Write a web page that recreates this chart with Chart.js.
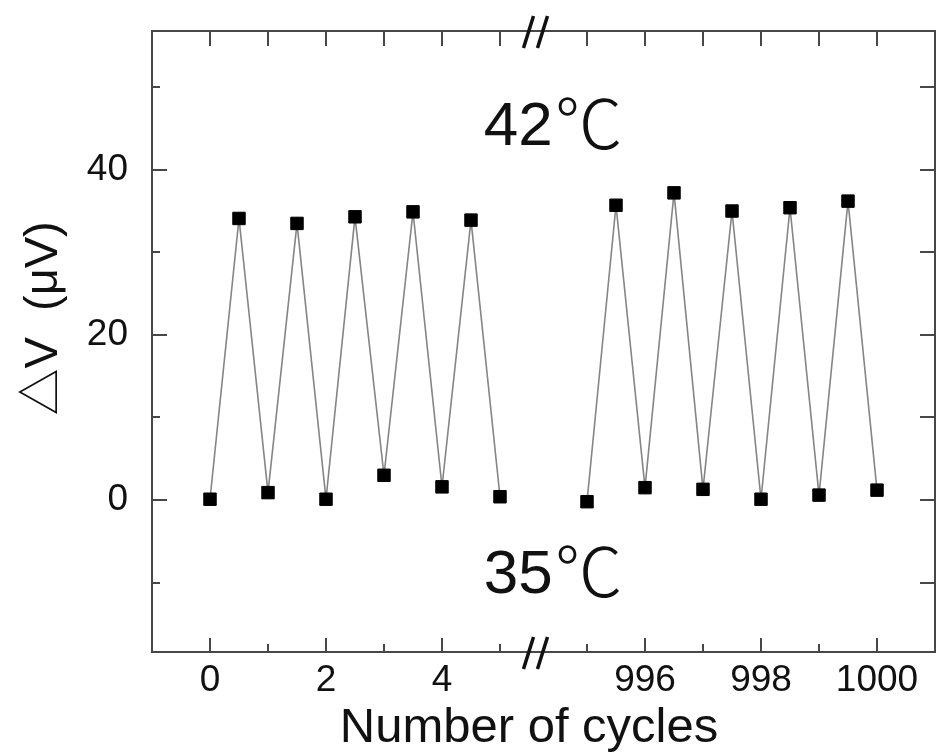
<!DOCTYPE html>
<html>
<head>
<meta charset="utf-8">
<script src="https://cdn.jsdelivr.net/npm/chart.js@4.4.1/dist/chart.umd.min.js"></script>
<style>
  html, body { margin: 0; padding: 0; background: #fff; overflow: hidden; }
  #wrap { width: 937px; height: 756px; }
</style>
</head>
<body>
<div id="wrap"><canvas id="cyclesChart"></canvas></div>
<script>
// measured voltage change (uV) at each half cycle, before and after the break
var leftCycles = [0, 0.5, 1, 1.5, 2, 2.5, 3, 3.5, 4, 4.5, 5];
var leftDeltaV = [0.1, 34.1, 0.9, 33.5, 0.1, 34.3, 3.0, 34.9, 1.6, 33.9, 0.4];
var rightCycles = [995, 995.5, 996, 996.5, 997, 997.5, 998, 998.5, 999, 999.5, 1000];
var rightDeltaV = [-0.2, 35.7, 1.5, 37.2, 1.3, 35.0, 0.1, 35.4, 0.6, 36.2, 1.2];

var xTickCycles = [0, 1, 2, 3, 4, 5, 995, 996, 997, 998, 999, 1000];
var xTickLabels = ['0', '', '2', '', '4', '', '', '996', '', '998', '', '1000'];
var yTickValues = [-10, 0, 10, 20, 30, 40, 50];
var yTickLabels = ['', '0', '', '20', '', '40', ''];

var tempValues = ['42', '35'];
var tempUnit = '\u2103';
var tempLabelY = [43, -11.3];

// broken x axis: cycles 5..995 are squeezed into a gap of 1.5 units
var BREAK_FROM = 5, BREAK_TO = 995, BREAK_GAP = 1.5;
function toAxis(c) { return c > BREAK_FROM ? c - BREAK_TO + BREAK_FROM + BREAK_GAP : c; }

var FONT = "'Liberation Sans', Arial, 'Noto Sans CJK SC', sans-serif";
var INK = '#111';

var framePlugin = {
    id: 'frame',
    afterDraw: function (chart) {
        var ctx = chart.ctx, a = chart.chartArea;
        var xs = chart.scales.x, ys = chart.scales.y;
        ctx.save();

        // box
        ctx.strokeStyle = '#474747';
        ctx.lineWidth = 2;
        ctx.strokeRect(a.left, a.top, a.right - a.left, a.bottom - a.top);

        ctx.beginPath();
        xTickCycles.forEach(function (c, i) {
            var px = Math.round(xs.getPixelForValue(toAxis(c)));
            var len = xTickLabels[i] !== '' ? 14 : 8;
            ctx.moveTo(px, a.bottom);
            ctx.lineTo(px, a.bottom - len);
            ctx.moveTo(px, a.top);
            ctx.lineTo(px, a.top + 15);
        });
        yTickValues.forEach(function (v, i) {
            var py = Math.round(ys.getPixelForValue(v));
            var len = yTickLabels[i] !== '' ? 15 : 8;
            ctx.moveTo(a.left, py);
            ctx.lineTo(a.left + len, py);
            ctx.moveTo(a.right, py);
            ctx.lineTo(a.right - 15, py);
        });
        ctx.stroke();

        // break marks
        var bx = xs.getPixelForValue(BREAK_FROM + BREAK_GAP / 2) - 8;
        ctx.strokeStyle = INK;
        ctx.lineWidth = 3.5;
        ctx.beginPath();
        [a.top, a.bottom].forEach(function (y) {
            [-7, 7].forEach(function (dx) {
                ctx.moveTo(bx + dx + 5, y - 15);
                ctx.lineTo(bx + dx - 5, y + 17);
            });
        });
        ctx.stroke();

        // temperature labels, the degree sign in a lighter CJK face
        ctx.fillStyle = INK;
        ctx.textAlign = 'left';
        ctx.textBaseline = 'alphabetic';
        tempValues.forEach(function (t, i) {
            var x = xs.getPixelForValue(4.72), y = ys.getPixelForValue(tempLabelY[i]);
            ctx.font = '62px ' + FONT;
            ctx.fillText(t, x, y);
            var w = ctx.measureText(t).width;
            ctx.font = "300 68px 'Noto Sans CJK SC', 'DejaVu Sans', sans-serif";
            ctx.fillText(tempUnit, x + w + 2, y + 4);
        });

        // axis titles
        ctx.font = '49px ' + FONT;
        ctx.textAlign = 'center';
        ctx.fillText('Number of cycles', xs.getPixelForValue(BREAK_FROM + 0.5), a.bottom + 90);

        ctx.save();
        ctx.translate(57, ys.getPixelForValue(22));
        ctx.rotate(-Math.PI / 2);
        ctx.font = '47px ' + FONT;
        ctx.fillText('\u25B3V  (\u03BCV)', 0, 0);
        ctx.restore();

        ctx.restore();
    }
};

function points(xs, ys) {
    return xs.map(function (c, i) { return { x: toAxis(c), y: ys[i] }; });
}

function segment(xs, ys) {
    return {
        data: points(xs, ys),
        showLine: true,
        borderColor: '#858585',
        borderWidth: 1.6,
        pointStyle: 'rect',
        pointRadius: 8.8,
        pointBorderWidth: 1,
        pointBackgroundColor: '#000',
        pointBorderColor: '#000'
    };
}

function noPadding(scale) {
    scale.paddingLeft = 0;
    scale.paddingRight = 0;
    scale.paddingTop = 0;
    scale.paddingBottom = 0;
}

var ctx = document.getElementById('cyclesChart').getContext('2d');
new Chart(ctx, {
    type: 'scatter',
    data: {
        datasets: [segment(leftCycles, leftDeltaV), segment(rightCycles, rightDeltaV)]
    },
    options: {
        responsive: true,
        maintainAspectRatio: false,
        animation: false,
        layout: { autoPadding: false, padding: { top: 31, right: 2, left: 0, bottom: 0 } },
        plugins: { legend: { display: false }, tooltip: { enabled: false } },
        scales: {
            x: {
                type: 'linear',
                min: -1,
                max: 12.5,
                border: { display: false },
                grid: { display: false, drawTicks: false },
                afterBuildTicks: function (scale) {
                    scale.ticks = xTickCycles.map(function (c) { return { value: toAxis(c) }; });
                },
                afterFit: function (scale) {
                    scale.height = 104;
                    noPadding(scale);
                },
                ticks: {
                    autoSkip: false,
                    maxRotation: 0,
                    padding: 7,
                    color: INK,
                    font: { family: FONT, size: 37 },
                    callback: function (v, i) { return xTickLabels[i]; }
                }
            },
            y: {
                type: 'linear',
                min: -18.4,
                max: 56.8,
                border: { display: false },
                grid: { display: false, drawTicks: false },
                afterBuildTicks: function (scale) {
                    scale.ticks = yTickValues.map(function (v) { return { value: v }; });
                },
                afterFit: function (scale) {
                    scale.width = 152;
                    noPadding(scale);
                },
                ticks: {
                    autoSkip: false,
                    padding: 24,
                    color: INK,
                    font: { family: FONT, size: 37 },
                    callback: function (v, i) { return yTickLabels[i]; }
                }
            }
        }
    },
    plugins: [framePlugin]
});
</script>
</body>
</html>
